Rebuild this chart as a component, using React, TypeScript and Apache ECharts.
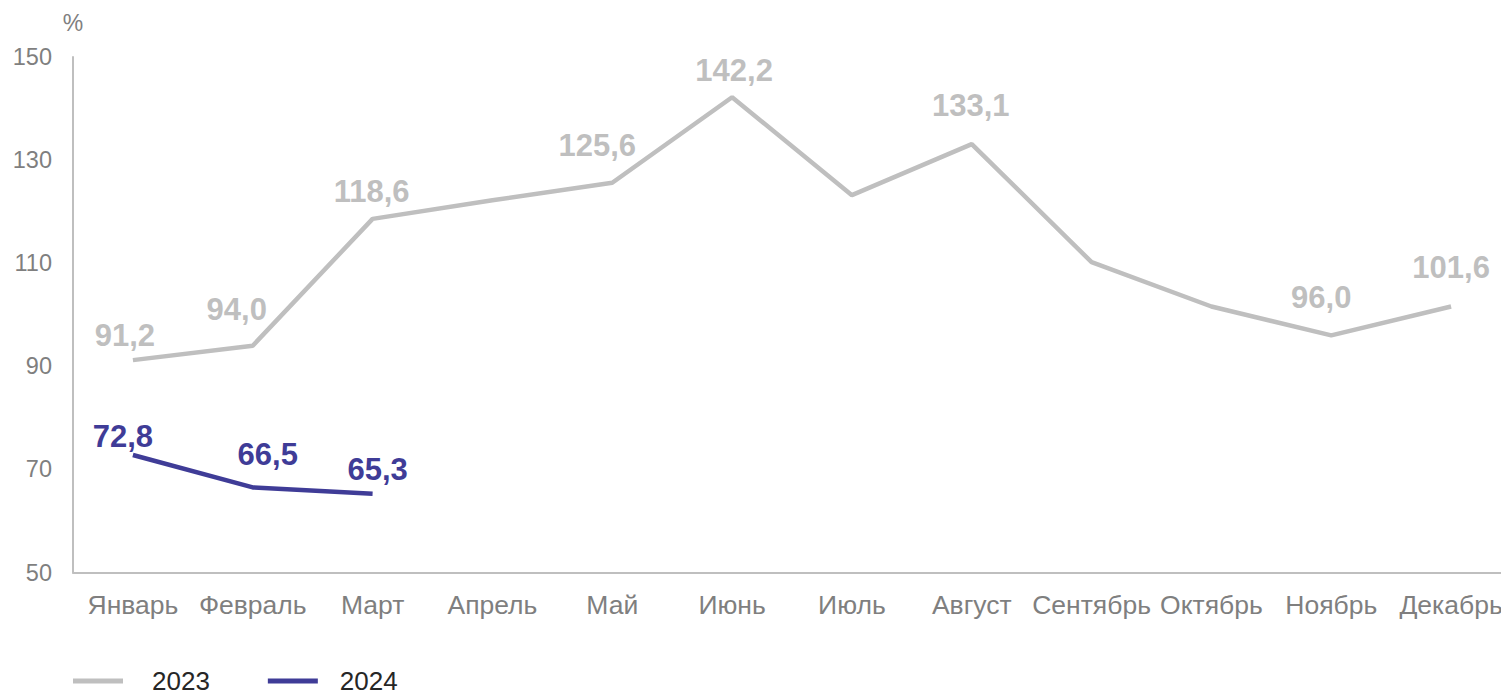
import React, { useEffect, useRef } from "react";
import * as echarts from "echarts";

const months = ["Январь", "Февраль", "Март", "Апрель", "Май", "Июнь", "Июль", "Август", "Сентябрь", "Октябрь", "Ноябрь", "Декабрь"];
const values2023 = [91.2, 94.0, 118.6, 122.2, 125.6, 142.2, 123.2, 133.1, 110.2, 101.6, 96.0, 101.6];
const values2024 = [72.8, 66.5, 65.3];
const labeled2023 = [true, true, true, false, true, true, false, true, false, false, true, true];
const labelOffsets2023 = [[-8, -9], [-16, -21], [-1, -12], [0, 0], [-15, -22], [2, -11], [0, 0], [-1, -23], [0, 0], [0, 0], [-10, -22], [0, -23]];
const labelOffsets2024 = [[-10, -3], [15, -17], [5, -9]];
const yTicks = { min: 50, max: 150, interval: 20 };
const seriesNames = ["2023", "2024"];

const FONT = "'Liberation Sans', Arial, sans-serif";
const GRAY = "#bfbfbf";
const BLUE = "#3f3c97";

const fmt = (v: number) => Number(v).toFixed(1).replace(".", ",");

export default function App() {
  const ref = useRef<HTMLDivElement>(null);
  useEffect(() => {
    if (!ref.current) return;
    const chart = echarts.init(ref.current, undefined, { renderer: "svg" });
    const labelBase = {
      show: true,
      position: "top",
      distance: 0,
      fontFamily: FONT,
      fontSize: 31,
      lineHeight: 31,
      fontWeight: "bold",
    };
    chart.setOption({
      animation: false,
      textStyle: { fontFamily: FONT },
      grid: { left: 73, right: 9, top: 57, bottom: 119.5, containLabel: false },
      legend: {
        left: 73,
        top: 668,
        padding: 0,
        icon: "rect",
        itemWidth: 50,
        itemHeight: 5,
        itemGap: 58,
        data: [
          { name: seriesNames[0], textStyle: { padding: [0, 0, 0, 24] } },
          { name: seriesNames[1], textStyle: { padding: [0, 0, 0, 17] } },
        ],
        textStyle: { fontFamily: FONT, fontSize: 26, color: "#262626" },
      },
      xAxis: {
        type: "category",
        data: months,
        boundaryGap: true,
        axisLine: { lineStyle: { color: GRAY, width: 2 } },
        axisTick: { show: false },
        axisLabel: { fontFamily: FONT, fontSize: 26.5, color: "#7f7f7f", margin: 19, interval: 0 },
        splitLine: { show: false },
      },
      yAxis: {
        type: "value",
        min: yTicks.min,
        max: yTicks.max,
        interval: yTicks.interval,
        name: "%",
        nameLocation: "end",
        nameGap: 23,
        nameTextStyle: { fontFamily: FONT, fontSize: 23, color: "#7f7f7f" },
        axisLine: { show: true, lineStyle: { color: GRAY, width: 2 } },
        axisTick: { show: false },
        axisLabel: { fontFamily: FONT, fontSize: 23.5, color: "#7f7f7f", margin: 21 },
        splitLine: { show: false },
      },
      series: [
        {
          name: seriesNames[0],
          type: "line",
          symbol: "circle",
          symbolSize: 0.01,
          showSymbol: true,
          lineStyle: { color: GRAY, width: 4.5 },
          itemStyle: { color: GRAY },
          data: values2023.map((v, i) => ({
            value: v,
            label: labeled2023[i]
              ? { ...labelBase, color: GRAY, offset: labelOffsets2023[i], formatter: fmt(v) }
              : { show: false },
          })),
        },
        {
          name: seriesNames[1],
          type: "line",
          symbol: "circle",
          symbolSize: 0.01,
          showSymbol: true,
          lineStyle: { color: BLUE, width: 4.5 },
          itemStyle: { color: BLUE },
          data: values2024.map((v, i) => ({
            value: v,
            label: { ...labelBase, color: BLUE, offset: labelOffsets2024[i], formatter: fmt(v) },
          })),
        },
      ],
    });
    return () => chart.dispose();
  }, []);
  return (
    <div style={{ position: "absolute", left: 0, top: 0, width: 1501, height: 692, overflow: "hidden" }}>
      <div ref={ref} style={{ width: 1520, height: 692 }} />
    </div>
  );
}
